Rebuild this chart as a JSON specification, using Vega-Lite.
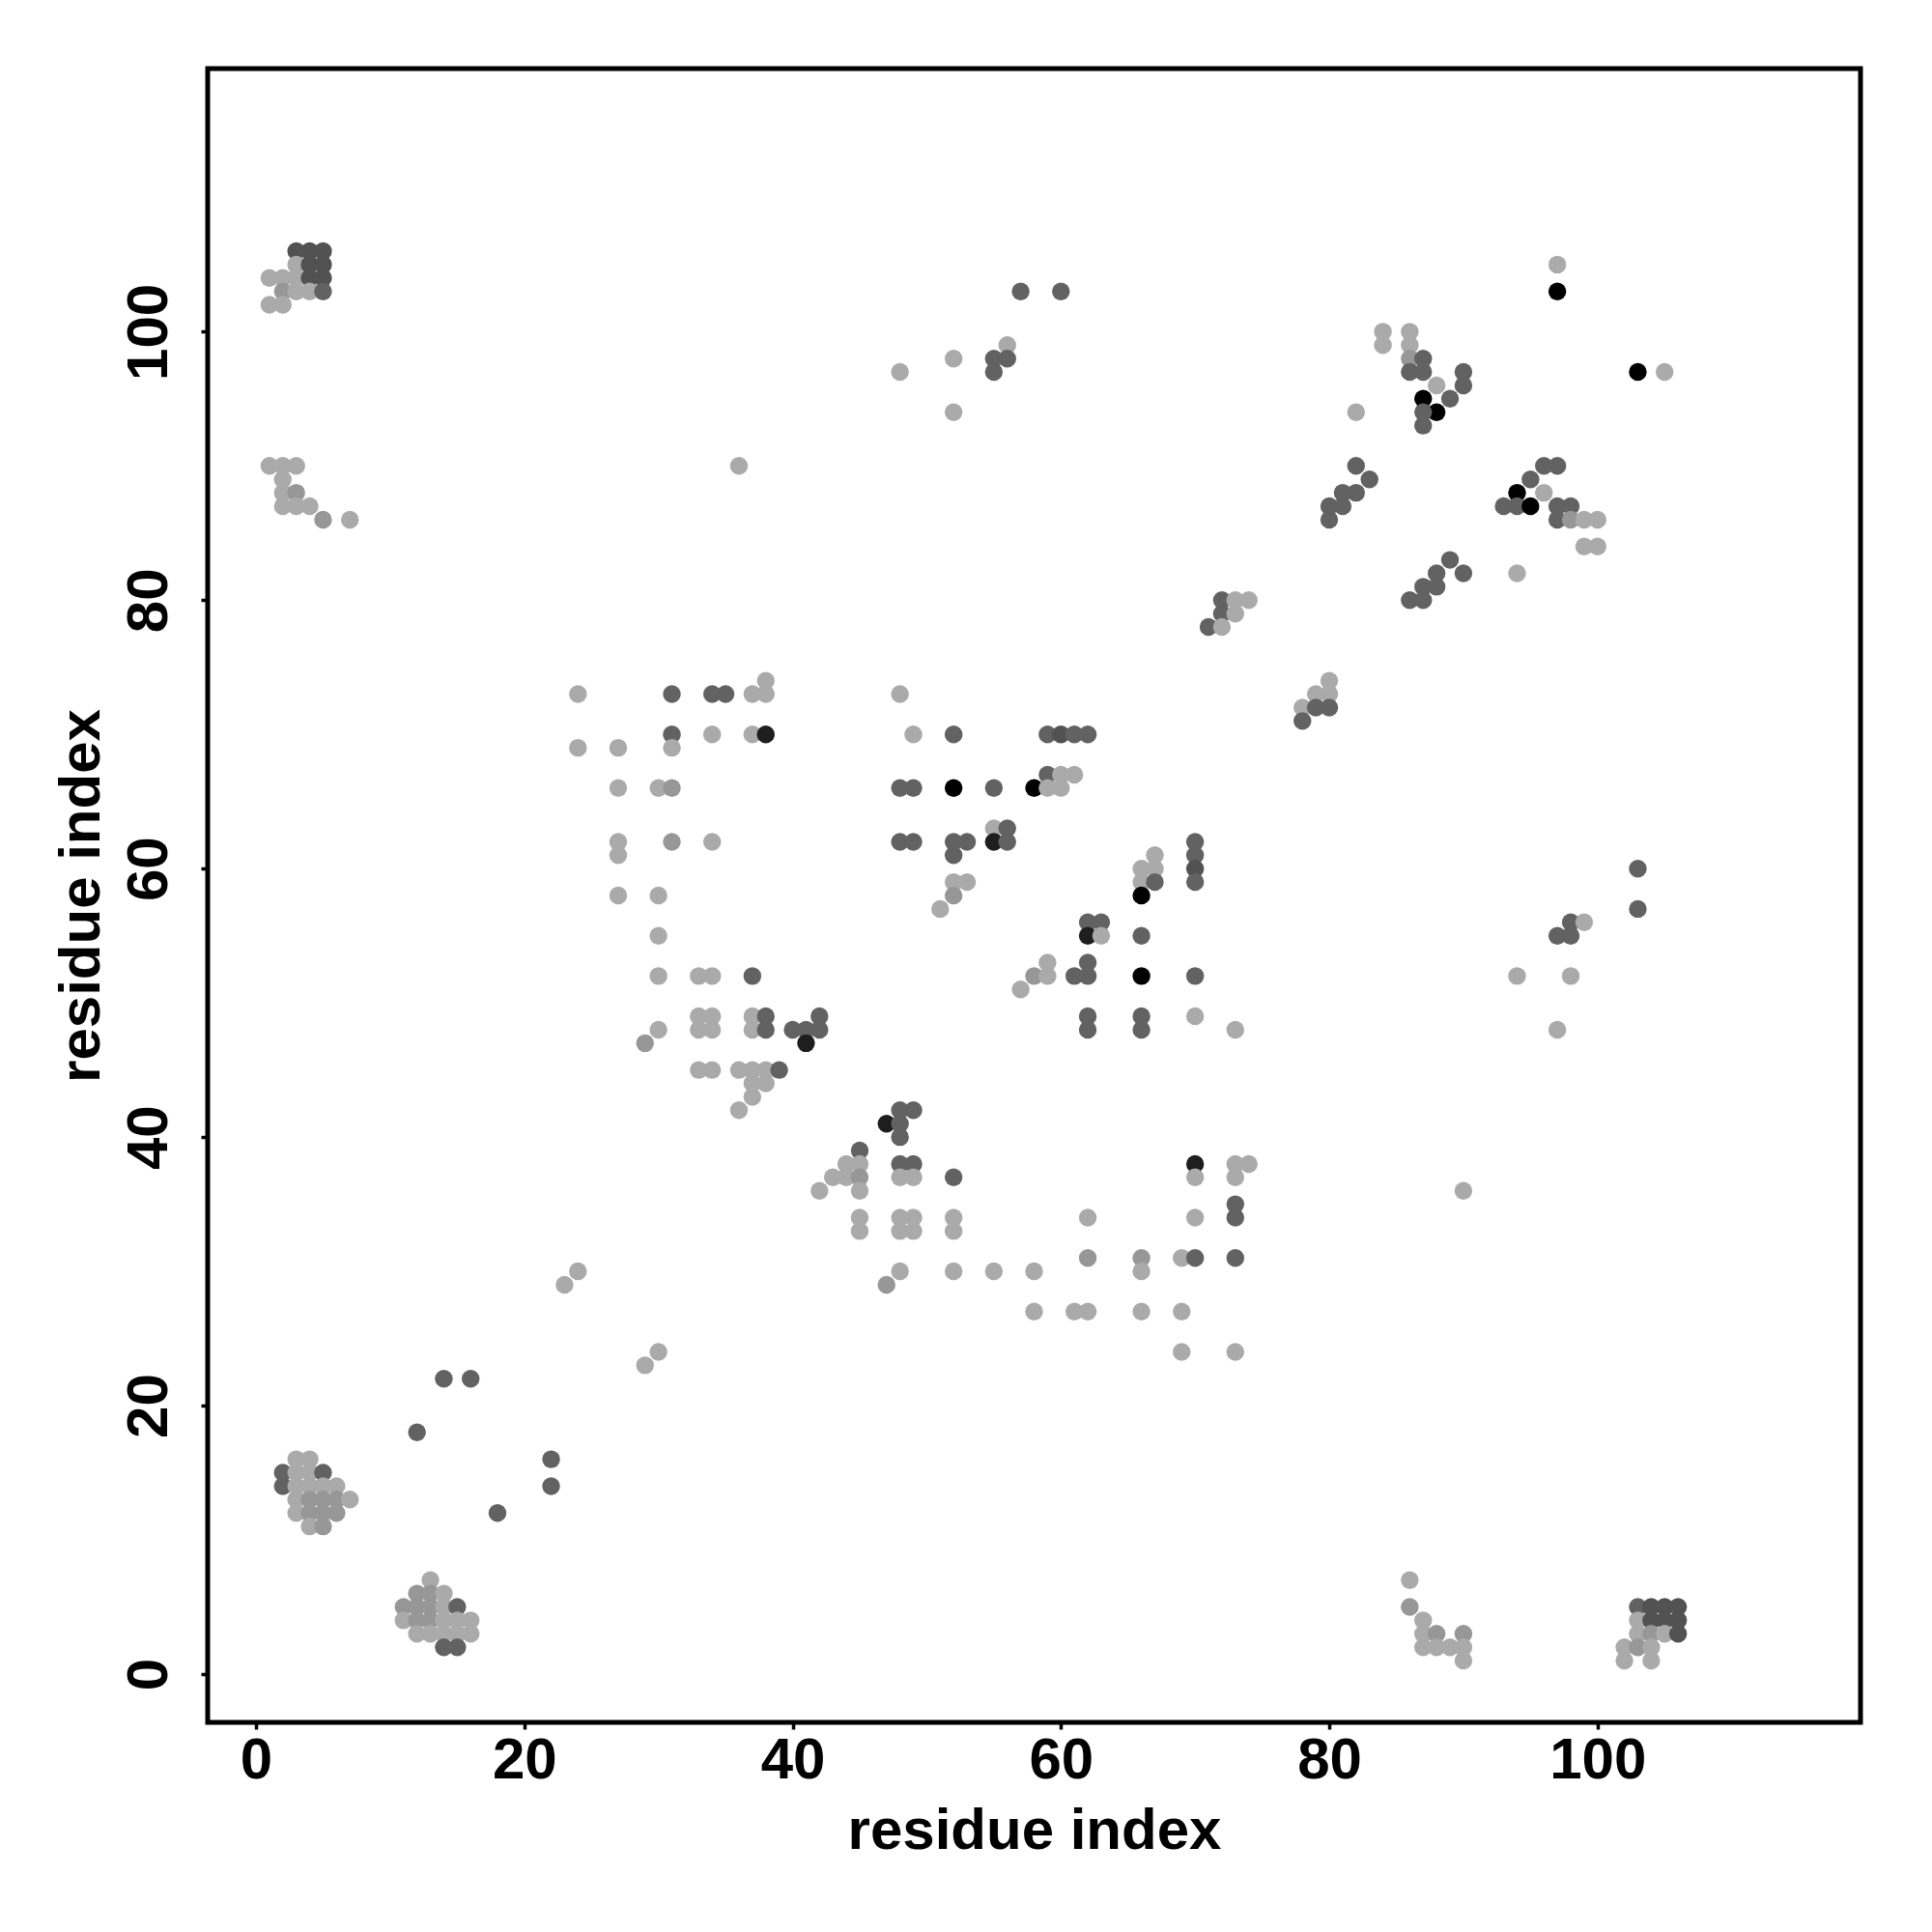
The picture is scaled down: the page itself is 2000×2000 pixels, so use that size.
{
  "$schema": "https://vega.github.io/schema/vega-lite/v6.json",
  "width": 1711,
  "height": 1712,
  "autosize": {"type": "none"},
  "padding": {"left": 215, "top": 71, "right": 74, "bottom": 217},
  "background": "white",
  "config": {
    "view": {"stroke": "black", "strokeWidth": 5},
    "axis": {
      "domain": false,
      "grid": false,
      "ticks": true,
      "tickColor": "black",
      "tickWidth": 3.5,
      "tickSize": 7,
      "labelFont": "Liberation Sans",
      "labelFontWeight": "bold",
      "labelFontSize": 60,
      "labelColor": "black",
      "labelFlush": false,
      "labelOverlap": false,
      "titleFont": "Liberation Sans",
      "titleFontWeight": "bold",
      "titleFontSize": 60,
      "titleColor": "black"
    }
  },
  "data": {
    "values": [
      {"i":3,"j":106,"s":"E"},{"i":4,"j":106,"s":"E"},{"i":5,"j":106,"s":"E"},
      {"i":3,"j":105,"s":"L"},{"i":4,"j":105,"s":"E"},{"i":5,"j":105,"s":"E"},
      {"i":1,"j":104,"s":"L"},{"i":2,"j":104,"s":"L"},{"i":3,"j":104,"s":"L"},{"i":4,"j":104,"s":"E"},{"i":5,"j":104,"s":"E"},
      {"i":2,"j":103,"s":"M"},{"i":3,"j":103,"s":"L"},{"i":4,"j":103,"s":"L"},{"i":5,"j":103,"s":"D"},
      {"i":1,"j":102,"s":"L"},{"i":2,"j":102,"s":"L"},
      {"i":1,"j":90,"s":"L"},{"i":2,"j":90,"s":"L"},{"i":3,"j":90,"s":"L"},
      {"i":2,"j":89,"s":"L"},
      {"i":2,"j":88,"s":"L"},{"i":3,"j":88,"s":"M"},
      {"i":2,"j":87,"s":"L"},{"i":3,"j":87,"s":"L"},{"i":4,"j":87,"s":"L"},
      {"i":5,"j":86,"s":"M"},{"i":7,"j":86,"s":"L"},

      {"i":24,"j":73,"s":"L"},{"i":31,"j":73,"s":"D"},{"i":34,"j":73,"s":"D"},{"i":35,"j":73,"s":"D"},{"i":37,"j":73,"s":"L"},{"i":38,"j":73,"s":"L"},{"i":38,"j":74,"s":"L"},
      {"i":31,"j":70,"s":"D"},{"i":34,"j":70,"s":"L"},{"i":37,"j":70,"s":"L"},{"i":38,"j":70,"s":"N"},
      {"i":24,"j":69,"s":"L"},{"i":27,"j":69,"s":"L"},{"i":31,"j":69,"s":"L"},
      {"i":27,"j":66,"s":"L"},{"i":30,"j":66,"s":"L"},{"i":31,"j":66,"s":"M"},
      {"i":27,"j":62,"s":"L"},{"i":27,"j":61,"s":"L"},{"i":31,"j":62,"s":"M"},{"i":34,"j":62,"s":"L"},
      {"i":27,"j":58,"s":"L"},{"i":30,"j":58,"s":"L"},
      {"i":30,"j":55,"s":"L"},
      {"i":30,"j":52,"s":"L"},{"i":33,"j":52,"s":"L"},{"i":34,"j":52,"s":"L"},{"i":37,"j":52,"s":"D"},
      {"i":33,"j":49,"s":"L"},{"i":34,"j":49,"s":"L"},{"i":33,"j":48,"s":"L"},{"i":34,"j":48,"s":"L"},
      {"i":37,"j":49,"s":"L"},{"i":38,"j":49,"s":"D"},{"i":37,"j":48,"s":"L"},{"i":38,"j":48,"s":"D"},
      {"i":40,"j":48,"s":"D"},{"i":41,"j":48,"s":"D"},{"i":42,"j":49,"s":"D"},{"i":42,"j":48,"s":"D"},{"i":41,"j":47,"s":"N"},
      {"i":30,"j":48,"s":"L"},{"i":29,"j":47,"s":"M"},
      {"i":33,"j":45,"s":"L"},{"i":34,"j":45,"s":"L"},{"i":36,"j":45,"s":"L"},{"i":37,"j":45,"s":"L"},{"i":38,"j":45,"s":"L"},{"i":39,"j":45,"s":"D"},
      {"i":37,"j":44,"s":"L"},{"i":38,"j":44,"s":"L"},{"i":37,"j":43,"s":"L"},{"i":36,"j":42,"s":"L"},
      {"i":36,"j":90,"s":"L"},

      {"i":48,"j":73,"s":"L"},
      {"i":49,"j":70,"s":"L"},{"i":52,"j":70,"s":"D"},{"i":59,"j":70,"s":"D"},{"i":60,"j":70,"s":"E"},{"i":61,"j":70,"s":"D"},{"i":62,"j":70,"s":"D"},
      {"i":59,"j":67,"s":"D"},{"i":60,"j":67,"s":"L"},{"i":61,"j":67,"s":"L"},
      {"i":48,"j":66,"s":"D"},{"i":49,"j":66,"s":"D"},{"i":52,"j":66,"s":"B"},{"i":55,"j":66,"s":"D"},{"i":58,"j":66,"s":"B"},{"i":59,"j":66,"s":"L"},{"i":60,"j":66,"s":"L"},
      {"i":55,"j":63,"s":"L"},{"i":56,"j":63,"s":"D"},{"i":55,"j":62,"s":"N"},{"i":56,"j":62,"s":"D"},
      {"i":48,"j":62,"s":"D"},{"i":49,"j":62,"s":"D"},{"i":52,"j":62,"s":"D"},{"i":53,"j":62,"s":"D"},{"i":52,"j":61,"s":"D"},
      {"i":52,"j":59,"s":"L"},{"i":53,"j":59,"s":"L"},{"i":52,"j":58,"s":"M"},{"i":51,"j":57,"s":"L"},
      {"i":66,"j":60,"s":"L"},{"i":66,"j":59,"s":"L"},{"i":66,"j":58,"s":"B"},{"i":67,"j":61,"s":"L"},{"i":67,"j":60,"s":"L"},{"i":67,"j":59,"s":"D"},
      {"i":62,"j":56,"s":"D"},{"i":63,"j":56,"s":"D"},{"i":62,"j":55,"s":"N"},{"i":63,"j":55,"s":"L"},{"i":66,"j":55,"s":"D"},
      {"i":59,"j":53,"s":"L"},{"i":58,"j":52,"s":"M"},{"i":59,"j":52,"s":"L"},{"i":57,"j":51,"s":"L"},
      {"i":61,"j":52,"s":"D"},{"i":62,"j":53,"s":"D"},{"i":62,"j":52,"s":"D"},{"i":66,"j":52,"s":"B"},
      {"i":62,"j":49,"s":"D"},{"i":62,"j":48,"s":"D"},{"i":66,"j":49,"s":"D"},{"i":66,"j":48,"s":"D"},

      {"i":70,"j":62,"s":"D"},{"i":70,"j":61,"s":"D"},{"i":70,"j":60,"s":"E"},{"i":70,"j":59,"s":"D"},
      {"i":70,"j":52,"s":"D"},{"i":70,"j":49,"s":"L"},{"i":73,"j":48,"s":"L"},
      {"i":70,"j":38,"s":"N"},{"i":70,"j":37,"s":"L"},{"i":73,"j":38,"s":"L"},{"i":74,"j":38,"s":"L"},{"i":73,"j":37,"s":"L"},

      {"i":48,"j":42,"s":"D"},{"i":49,"j":42,"s":"D"},{"i":47,"j":41,"s":"N"},{"i":48,"j":41,"s":"D"},{"i":48,"j":40,"s":"D"},{"i":45,"j":39,"s":"D"},
      {"i":44,"j":38,"s":"L"},{"i":45,"j":38,"s":"L"},{"i":43,"j":37,"s":"L"},{"i":44,"j":37,"s":"L"},{"i":45,"j":37,"s":"M"},{"i":42,"j":36,"s":"L"},{"i":45,"j":36,"s":"L"},
      {"i":48,"j":38,"s":"D"},{"i":49,"j":38,"s":"D"},{"i":48,"j":37,"s":"L"},{"i":49,"j":37,"s":"L"},{"i":52,"j":37,"s":"D"},
      {"i":45,"j":34,"s":"L"},{"i":45,"j":33,"s":"L"},{"i":48,"j":34,"s":"L"},{"i":49,"j":34,"s":"L"},{"i":48,"j":33,"s":"L"},{"i":49,"j":33,"s":"L"},{"i":52,"j":34,"s":"L"},{"i":52,"j":33,"s":"L"},
      {"i":62,"j":34,"s":"L"},
      {"i":73,"j":35,"s":"D"},{"i":73,"j":34,"s":"D"},{"i":70,"j":34,"s":"L"},
      {"i":62,"j":31,"s":"M"},{"i":66,"j":31,"s":"M"},{"i":66,"j":30,"s":"L"},{"i":69,"j":31,"s":"L"},{"i":70,"j":31,"s":"D"},{"i":73,"j":31,"s":"D"},
      {"i":48,"j":30,"s":"L"},{"i":47,"j":29,"s":"M"},{"i":52,"j":30,"s":"L"},{"i":55,"j":30,"s":"L"},{"i":58,"j":30,"s":"L"},
      {"i":58,"j":27,"s":"L"},{"i":61,"j":27,"s":"L"},{"i":62,"j":27,"s":"L"},{"i":66,"j":27,"s":"L"},{"i":69,"j":27,"s":"L"},
      {"i":69,"j":24,"s":"L"},{"i":73,"j":24,"s":"L"},

      {"i":57,"j":103,"s":"D"},{"i":60,"j":103,"s":"D"},{"i":56,"j":99,"s":"L"},{"i":55,"j":98,"s":"D"},{"i":56,"j":98,"s":"D"},{"i":55,"j":97,"s":"D"},{"i":52,"j":98,"s":"L"},{"i":48,"j":97,"s":"L"},{"i":52,"j":94,"s":"L"},

      {"i":84,"j":100,"s":"L"},{"i":84,"j":99,"s":"L"},{"i":86,"j":100,"s":"L"},{"i":86,"j":99,"s":"L"},{"i":86,"j":98,"s":"M"},{"i":87,"j":98,"s":"D"},{"i":86,"j":97,"s":"D"},{"i":87,"j":97,"s":"D"},{"i":88,"j":96,"s":"L"},{"i":90,"j":97,"s":"D"},{"i":90,"j":96,"s":"D"},{"i":87,"j":95,"s":"B"},{"i":89,"j":95,"s":"D"},{"i":88,"j":94,"s":"B"},{"i":87,"j":94,"s":"D"},{"i":87,"j":93,"s":"D"},
      {"i":82,"j":94,"s":"L"},
      {"i":82,"j":90,"s":"D"},{"i":83,"j":89,"s":"D"},{"i":81,"j":88,"s":"D"},{"i":82,"j":88,"s":"D"},{"i":80,"j":87,"s":"D"},{"i":81,"j":87,"s":"D"},{"i":80,"j":86,"s":"D"},
      {"i":89,"j":83,"s":"D"},{"i":88,"j":82,"s":"D"},{"i":90,"j":82,"s":"D"},{"i":87,"j":81,"s":"D"},{"i":88,"j":81,"s":"D"},{"i":86,"j":80,"s":"D"},{"i":87,"j":80,"s":"D"},
      {"i":72,"j":80,"s":"D"},{"i":73,"j":80,"s":"L"},{"i":74,"j":80,"s":"L"},{"i":72,"j":79,"s":"D"},{"i":73,"j":79,"s":"L"},{"i":71,"j":78,"s":"D"},{"i":72,"j":78,"s":"L"},
      {"i":80,"j":74,"s":"L"},{"i":79,"j":73,"s":"L"},{"i":80,"j":73,"s":"L"},{"i":78,"j":72,"s":"L"},{"i":79,"j":72,"s":"D"},{"i":80,"j":72,"s":"D"},{"i":78,"j":71,"s":"D"},

      {"i":97,"j":105,"s":"L"},{"i":97,"j":103,"s":"B"},{"i":103,"j":97,"s":"B"},{"i":105,"j":97,"s":"L"},
      {"i":96,"j":90,"s":"D"},{"i":97,"j":90,"s":"D"},{"i":95,"j":89,"s":"D"},{"i":94,"j":88,"s":"B"},{"i":96,"j":88,"s":"L"},
      {"i":93,"j":87,"s":"D"},{"i":94,"j":87,"s":"D"},{"i":95,"j":87,"s":"B"},{"i":97,"j":87,"s":"D"},{"i":98,"j":87,"s":"D"},
      {"i":97,"j":86,"s":"D"},{"i":98,"j":86,"s":"M"},{"i":99,"j":86,"s":"L"},{"i":100,"j":86,"s":"L"},
      {"i":99,"j":84,"s":"L"},{"i":100,"j":84,"s":"L"},{"i":94,"j":82,"s":"L"},

      {"i":103,"j":60,"s":"D"},{"i":103,"j":57,"s":"D"},{"i":98,"j":56,"s":"D"},{"i":99,"j":56,"s":"L"},{"i":97,"j":55,"s":"D"},{"i":98,"j":55,"s":"D"},{"i":94,"j":52,"s":"L"},{"i":98,"j":52,"s":"L"},{"i":97,"j":48,"s":"L"},{"i":90,"j":36,"s":"L"},

      {"i":24,"j":30,"s":"L"},{"i":23,"j":29,"s":"L"},{"i":30,"j":24,"s":"L"},{"i":29,"j":23,"s":"L"},
      {"i":14,"j":22,"s":"D"},{"i":16,"j":22,"s":"D"},{"i":12,"j":18,"s":"D"},{"i":22,"j":16,"s":"D"},{"i":22,"j":14,"s":"D"},{"i":18,"j":12,"s":"D"},
      {"i":3,"j":16,"s":"L"},{"i":4,"j":16,"s":"L"},
      {"i":2,"j":15,"s":"D"},{"i":3,"j":15,"s":"L"},{"i":4,"j":15,"s":"L"},{"i":5,"j":15,"s":"D"},
      {"i":2,"j":14,"s":"D"},{"i":3,"j":14,"s":"L"},{"i":4,"j":14,"s":"L"},{"i":5,"j":14,"s":"L"},{"i":6,"j":14,"s":"L"},
      {"i":3,"j":13,"s":"L"},{"i":4,"j":13,"s":"M"},{"i":5,"j":13,"s":"M"},{"i":6,"j":13,"s":"M"},{"i":7,"j":13,"s":"L"},
      {"i":3,"j":12,"s":"L"},{"i":4,"j":12,"s":"M"},{"i":5,"j":12,"s":"M"},{"i":6,"j":12,"s":"M"},
      {"i":4,"j":11,"s":"L"},{"i":5,"j":11,"s":"M"},
      {"i":13,"j":7,"s":"L"},
      {"i":12,"j":6,"s":"M"},{"i":13,"j":6,"s":"M"},{"i":14,"j":6,"s":"L"},
      {"i":11,"j":5,"s":"M"},{"i":12,"j":5,"s":"M"},{"i":13,"j":5,"s":"M"},{"i":14,"j":5,"s":"L"},{"i":15,"j":5,"s":"D"},
      {"i":11,"j":4,"s":"L"},{"i":12,"j":4,"s":"M"},{"i":13,"j":4,"s":"M"},{"i":14,"j":4,"s":"L"},{"i":15,"j":4,"s":"L"},{"i":16,"j":4,"s":"L"},
      {"i":12,"j":3,"s":"L"},{"i":13,"j":3,"s":"L"},{"i":14,"j":3,"s":"L"},{"i":15,"j":3,"s":"L"},{"i":16,"j":3,"s":"L"},
      {"i":14,"j":2,"s":"D"},{"i":15,"j":2,"s":"D"},

      {"i":86,"j":7,"s":"L"},{"i":86,"j":5,"s":"M"},{"i":87,"j":4,"s":"L"},{"i":87,"j":3,"s":"L"},{"i":88,"j":3,"s":"M"},{"i":90,"j":3,"s":"M"},{"i":87,"j":2,"s":"L"},{"i":88,"j":2,"s":"L"},{"i":89,"j":2,"s":"L"},{"i":90,"j":2,"s":"L"},{"i":90,"j":1,"s":"L"},
      {"i":103,"j":5,"s":"D"},{"i":104,"j":5,"s":"E"},{"i":105,"j":5,"s":"E"},{"i":106,"j":5,"s":"E"},
      {"i":103,"j":4,"s":"L"},{"i":104,"j":4,"s":"E"},{"i":105,"j":4,"s":"E"},{"i":106,"j":4,"s":"E"},
      {"i":103,"j":3,"s":"L"},{"i":104,"j":3,"s":"M"},{"i":105,"j":3,"s":"L"},{"i":106,"j":3,"s":"E"},
      {"i":102,"j":2,"s":"L"},{"i":103,"j":2,"s":"M"},{"i":104,"j":2,"s":"L"},
      {"i":102,"j":1,"s":"L"},{"i":104,"j":1,"s":"L"}
    ]
  },
  "mark": {"type": "point", "shape": "circle", "filled": true, "size": 340, "opacity": 1, "strokeWidth": 0},
  "encoding": {
    "x": {
      "field": "i", "type": "quantitative", "title": "residue index",
      "scale": {"domain": [-3.6, 119.6], "nice": false, "zero": false},
      "axis": {"values": [0, 20, 40, 60, 80, 100], "labelPadding": 3, "titleBaseline": "alphabetic", "titleY": 130}
    },
    "y": {
      "field": "j", "type": "quantitative", "title": "residue index",
      "scale": {"domain": [-3.6, 119.6], "nice": false, "zero": false},
      "axis": {"values": [0, 20, 40, 60, 80, 100], "labelAngle": -90, "labelAlign": "center", "labelBaseline": "bottom", "labelPadding": 23, "titleAngle": -90, "titleBaseline": "alphabetic", "titleAlign": "center", "titleX": -113, "titleY": 856}
    },
    "color": {
      "field": "s", "type": "nominal", "legend": null,
      "scale": {"domain": ["L", "M", "D", "E", "N", "B"], "range": ["#aaaaaa", "#979797", "#626262", "#525252", "#1e1e1e", "#000000"]}
    }
  }
}
